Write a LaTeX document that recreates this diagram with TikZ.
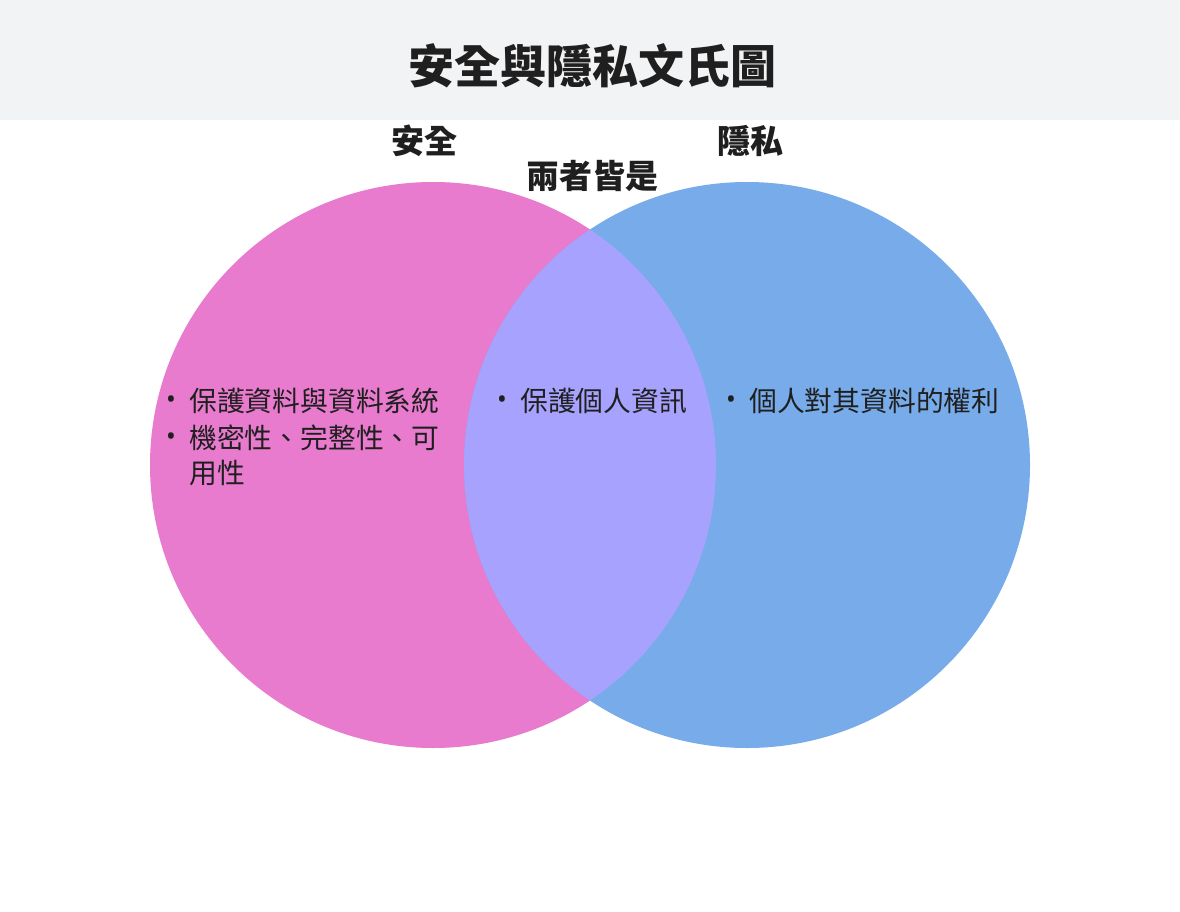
\documentclass[tikz,border=0pt]{standalone}
\usepackage{fontspec}
\setmainfont{Noto Sans CJK TC}
\newfontfamily\bulletfont{Noto Sans}
\begin{document}
\begin{tikzpicture}[x=1pt,y=-1pt,
  txt/.style={inner sep=0pt,text=black!88},
  item/.style={txt,anchor=west,font=\fontsize{27.8}{30}\selectfont},
  bul/.style={txt,font=\bulletfont\fontsize{26}{28}\selectfont},
  head/.style={txt,font=\bfseries\fontsize{33}{36}\selectfont}]
\useasboundingbox (0,0) rectangle (1180,912);
\fill[white] (0,0) rectangle (1180,912);
\fill[color={rgb,255:red,242;green,243;blue,245}] (0,0) rectangle (1180,120);
\node[txt,font=\bfseries\fontsize{46}{50}\selectfont] (title) at (592,66) {安全與隱私文氏圖};
\definecolor{pinkc}{RGB}{232,123,206}
\definecolor{bluec}{RGB}{120,171,233}
\definecolor{overc}{RGB}{167,162,253}
\fill[pinkc] (433,465) circle[radius=283];
\fill[bluec] (747,465) circle[radius=283];
\begin{scope}
\clip (433,465) circle[radius=283];
\fill[overc] (747,465) circle[radius=283];
\end{scope}
\node[head] (lsec) at (424,141) {安全};
\node[head] (lpri) at (750,141) {隱私};
\node[head] (lboth) at (592,176) {兩者皆是};
\node[bul] (b1) at (171,402) {•};
\node[item] (t1) at (189,401) {保護資料與資料系統};
\node[bul] (b2) at (171,439) {•};
\node[item] (t2) at (189,438) {機密性、完整性、可};
\node[item] (t3) at (189,473) {用性};
\node[bul] (b3) at (502,402) {•};
\node[item] (t4) at (520,401) {保護個人資訊};
\node[bul] (b4) at (731,402) {•};
\node[item] (t5) at (749,401) {個人對其資料的權利};
\end{tikzpicture}
\end{document}
